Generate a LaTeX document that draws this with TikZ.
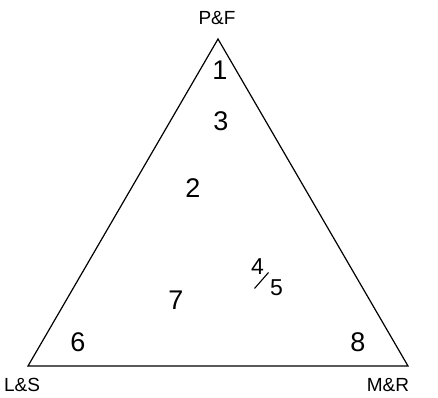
\documentclass[tikz,border=0pt]{standalone}
\usepackage{fontspec}
\setmainfont{Liberation Sans}
\begin{document}
\begin{tikzpicture}[x=1pt,y=1pt,
  vlabel/.style={font=\fontsize{19}{22}\selectfont, inner sep=0pt},
  num/.style={font=\fontsize{27}{30}\selectfont, inner sep=0pt},
  smallnum/.style={font=\fontsize{23}{26}\selectfont, inner sep=0pt}]
\useasboundingbox (0,0) rectangle (438,397);
\coordinate (T) at (218,358);
\coordinate (L) at (28,31);
\coordinate (R) at (408,31);
\draw[line width=1.2pt, line join=miter] (T) -- (L) -- (R) -- cycle;
\node[vlabel] (pf) at (217,379) {P\&F};
\node[vlabel] (ls) at (22,12) {L\&S};
\node[vlabel] (mr) at (388,12) {M\&R};
\node[num] (n1) at (220,327) {1};
\node[num] (n3) at (221,276) {3};
\node[num] (n2) at (193,209) {2};
\node[num] (n7) at (176,97) {7};
\node[num] (n6) at (78,55) {6};
\node[num] (n8) at (358,55) {8};
\node[smallnum] (n4) at (257.5,130) {4};
\node[smallnum] (n5) at (276.5,109.5) {5};
\coordinate (s1) at (254.5,108.5);
\coordinate (s2) at (268.5,124.5);
\draw[line width=1.1pt] (s1) -- (s2);
\end{tikzpicture}
\end{document}
